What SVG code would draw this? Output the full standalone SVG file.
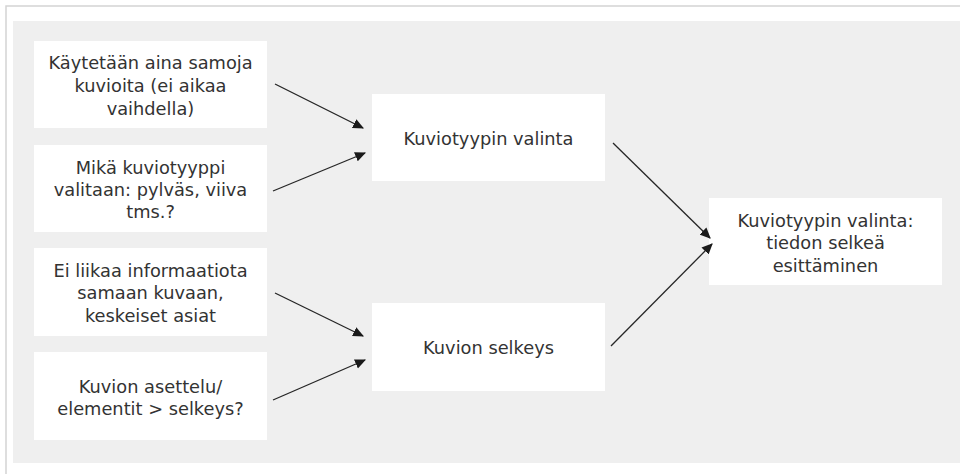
<svg xmlns="http://www.w3.org/2000/svg" width="960" height="474" viewBox="0 0 960 474">
  <style>
    .frame { fill: none; stroke: #d4d4d4; stroke-width: 1.5; }
    .panel { fill: #efefef; }
    .box { fill: #ffffff; }
    .label { font-family: "DejaVu Sans", Verdana, sans-serif; font-size: 17.8px; fill: #333333; text-anchor: middle; }
    .edge { stroke: #262626; stroke-width: 1.3; fill: none; marker-end: url(#head); }
  </style>
  <defs>
    <marker id="head" viewBox="0 0 10 10" refX="9" refY="5" markerWidth="11" markerHeight="11" markerUnits="userSpaceOnUse" orient="auto">
      <path d="M0,0.5 L10,5 L0,9.5 Z" fill="#1a1a1a"/>
    </marker>
  </defs>

  <!-- page frame and backdrop -->
  <path class="frame" d="M6,474 V6 H960"/>
  <rect class="panel" x="13" y="21" width="947" height="442"/>

  <!-- inputs -->
  <g id="n-samat-kuviot">
    <rect class="box" x="34" y="41" width="233" height="87"/>
    <text class="label" x="150.5" y="69">Käytetään aina samoja</text>
    <text class="label" x="150.5" y="92">kuvioita (ei aikaa</text>
    <text class="label" x="150.5" y="115">vaihdella)</text>
  </g>
  <g id="n-kuviotyyppi">
    <rect class="box" x="34" y="145" width="233" height="87"/>
    <text class="label" x="150.5" y="174">Mikä kuviotyyppi</text>
    <text class="label" x="150.5" y="196">valitaan: pylväs, viiva</text>
    <text class="label" x="150.5" y="218">tms.?</text>
  </g>
  <g id="n-informaatio">
    <rect class="box" x="34" y="248" width="233" height="88"/>
    <text class="label" x="150.5" y="277">Ei liikaa informaatiota</text>
    <text class="label" x="150.5" y="299">samaan kuvaan,</text>
    <text class="label" x="150.5" y="322">keskeiset asiat</text>
  </g>
  <g id="n-asettelu">
    <rect class="box" x="34" y="352" width="233" height="88"/>
    <text class="label" x="150.5" y="393">Kuvion asettelu/</text>
    <text class="label" x="150.5" y="415">elementit &gt; selkeys?</text>
  </g>

  <!-- intermediate -->
  <g id="n-valinta">
    <rect class="box" x="372" y="94" width="233" height="87"/>
    <text class="label" x="488.5" y="145">Kuviotyypin valinta</text>
  </g>
  <g id="n-selkeys">
    <rect class="box" x="372" y="303" width="233" height="88"/>
    <text class="label" x="488.5" y="354">Kuvion selkeys</text>
  </g>

  <!-- result -->
  <g id="n-tulos">
    <rect class="box" x="709" y="198" width="233" height="87"/>
    <text class="label" x="825.5" y="227">Kuviotyypin valinta:</text>
    <text class="label" x="825.5" y="249">tiedon selkeä</text>
    <text class="label" x="825.5" y="272">esittäminen</text>
  </g>

  <!-- connectors -->
  <g id="edges">
    <line class="edge" x1="275" y1="84" x2="363" y2="128"/>
    <line class="edge" x1="273" y1="191" x2="365" y2="153"/>
    <line class="edge" x1="275" y1="293" x2="363" y2="336"/>
    <line class="edge" x1="273" y1="400" x2="365" y2="360"/>
    <line class="edge" x1="613" y1="143" x2="710" y2="238"/>
    <line class="edge" x1="611" y1="346" x2="712" y2="244"/>
  </g>
</svg>
